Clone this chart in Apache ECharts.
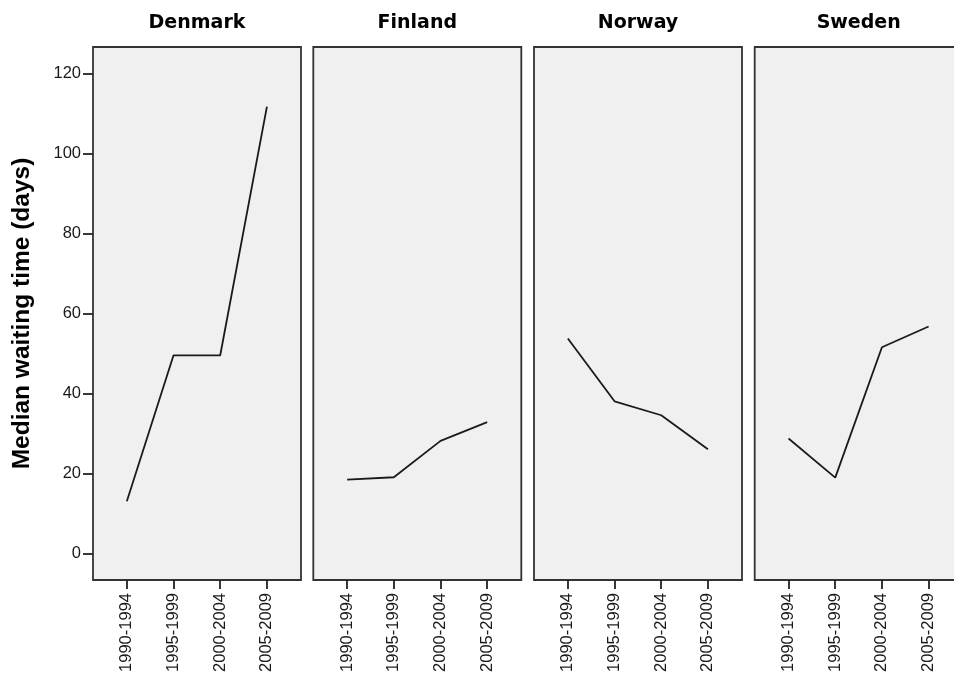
<!DOCTYPE html>
<html>
<head>
<meta charset="utf-8">
<script src="https://cdn.jsdelivr.net/npm/echarts@6/dist/echarts.min.js"></script>
<style>
  html, body { margin: 0; padding: 0; background: #ffffff; }
  #chart { width: 954px; height: 675px; }
</style>
</head>
<body>
<div id="chart"></div>
<script>
// Median waiting time (days) by period, one panel per country
const periods = ['1990-1994', '1995-1999', '2000-2004', '2005-2009'];
const countries = ['Denmark', 'Finland', 'Norway', 'Sweden'];
const denmark = [13.1, 49.6, 49.6, 111.8];
const finland = [18.5, 19.1, 28.2, 32.9];
const norway  = [53.8, 38.1, 34.6, 26.1];
const sweden  = [28.8, 19.0, 51.6, 56.8];
const yTicks = [0, 20, 40, 60, 80, 100, 120];
const yTitle = 'Median waiting time (days)';

const seriesValues = [denmark, finland, norway, sweden];

// panel layout
const panelLeft = [93, 313.3, 534, 754.7];
const panelWidth = 208;
const panelTop = 47;
const panelHeight = 533;
const yMin = -6.6, yMax = 126.7;
const xMin = -0.725, xMax = 3.73;

const textColor = '#1a1a1a';
const sansFont = '"Liberation Sans", Arial, sans-serif';

const chart = echarts.init(document.getElementById('chart'), null, { renderer: 'canvas' });

const grids = [], xAxes = [], yAxes = [], titles = [], series = [];

countries.forEach((name, i) => {
  grids.push({
    left: panelLeft[i], top: panelTop, width: panelWidth, height: panelHeight,
    outerBoundsMode: 'none',
    show: true, backgroundColor: '#f0f0f0',
    borderColor: '#333333', borderWidth: 1.8,
    containLabel: false
  });

  xAxes.push({
    type: 'value', gridIndex: i, min: xMin, max: xMax,
    axisLine: { show: false, onZero: false },
    splitLine: { show: false },
    axisTick: {
      show: true, length: 9, customValues: periods.map((p, k) => k),
      lineStyle: { color: '#222222', width: 1.8 }
    },
    axisLabel: {
      show: true, rotate: 90, margin: 13,
      customValues: periods.map((p, k) => k),
      formatter: v => periods[Math.round(v)],
      fontFamily: sansFont, fontSize: 16.5, color: textColor
    }
  });

  const isFirst = i === 0;
  yAxes.push({
    type: 'value', gridIndex: i, min: yMin, max: yMax,
    show: isFirst,
    name: isFirst ? yTitle : '',
    nameLocation: 'middle', nameGap: 58, nameRotate: 90,
    nameTextStyle: { fontFamily: sansFont, fontWeight: 'bold', fontSize: 24.5, color: '#000' },
    axisLine: { show: false, onZero: false },
    splitLine: { show: false },
    axisTick: {
      show: isFirst, length: 10, customValues: yTicks,
      lineStyle: { color: '#222222', width: 1.8 }
    },
    axisLabel: {
      show: isFirst, margin: 12, customValues: yTicks,
      fontFamily: sansFont, fontSize: 16.5, color: textColor
    }
  });

  titles.push({
    text: name,
    left: panelLeft[i] + panelWidth / 2,
    top: 14,
    padding: 0,
    textAlign: 'center',
    textStyle: { fontFamily: '"DejaVu Sans", sans-serif', fontWeight: 'bold', fontSize: 19, color: '#000' }
  });

  series.push({
    type: 'line', name: name, xAxisIndex: i, yAxisIndex: i,
    data: seriesValues[i].map((v, k) => [k, v]),
    symbol: 'none', smooth: false,
    lineStyle: { color: '#1a1a1a', width: 1.8 },
    silent: true
  });
});

chart.setOption({
  animation: false,
  backgroundColor: '#ffffff',
  title: titles,
  grid: grids,
  xAxis: xAxes,
  yAxis: yAxes,
  series: series
});
</script>
</body>
</html>
